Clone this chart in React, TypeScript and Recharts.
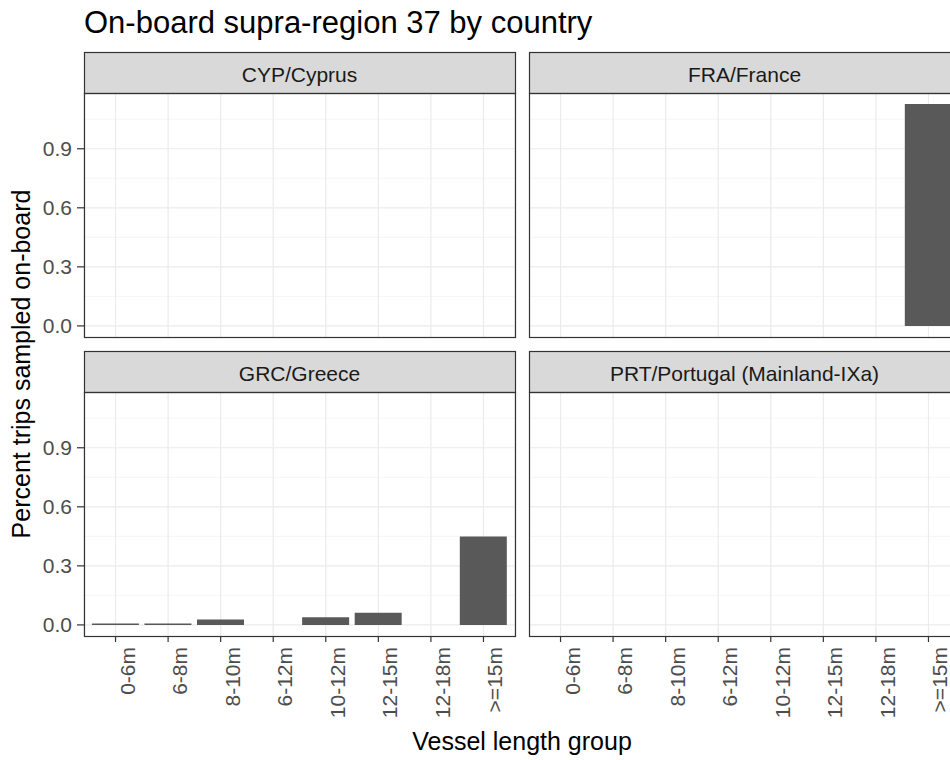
import { BarChart, Bar, XAxis, YAxis, CartesianGrid } from 'recharts'

const lengthGroups = ['0-6m', '6-8m', '8-10m', '6-12m', '10-12m', '12-15m', '12-18m', '>=15m']

const cypValues: (number | null)[] = [null, null, null, null, null, null, null, null]
const fraValues: (number | null)[] = [null, null, null, null, null, null, null, 1.127]
const grcValues: (number | null)[] = [0.007, 0.007, 0.028, null, 0.039, 0.062, null, 0.449]
const prtValues: (number | null)[] = [null, null, null, null, null, null, null, null]

const facetLabels = ['CYP/Cyprus', 'FRA/France', 'GRC/Greece', 'PRT/Portugal (Mainland-IXa)']
const facetValues = [cypValues, fraValues, grcValues, prtValues]

const yTicks = [0, 0.3, 0.6, 0.9]
const yMinorTicks = [0.15, 0.45, 0.75, 1.05]

// ggplot-style 5% expansion on the shared y scale
const yMax = Math.max(...facetValues.flat().map(v => v ?? 0))
const Y_MIN = -0.05 * yMax
const Y_MAX = 1.05 * yMax

// layout (px)
const PANEL_W = 431
const PANEL_H = 244
const STRIP_H = 41
const PANEL_LEFT = [84, 529]
const STRIP_TOP = [52, 351]
const Y_AXIS_W = 60
const X_AXIS_H = 110
const BAND_PAD = (PANEL_W / 8.2) * 0.1

const FONT = '"Liberation Sans", Arial, sans-serif'

function RotatedTick(props: any) {
  const { x, y, payload } = props
  return (
    <text
      x={x}
      y={y}
      dy={19}
      transform={`rotate(-90, ${x}, ${y})`}
      textAnchor="end"
      fill="#4d4d4d"
      fontSize={21}
      fontFamily={FONT}
    >
      {payload.value}
    </text>
  )
}

function Facet({ index }: { index: number }) {
  const col = index % 2
  const row = Math.floor(index / 2)
  const showY = col === 0
  const showX = row === 1
  const data = lengthGroups.map((g, i) => ({ group: g, value: facetValues[index][i] }))
  const left = PANEL_LEFT[col] - (showY ? Y_AXIS_W : 0)
  const top = STRIP_TOP[row] + STRIP_H
  return (
    <div style={{ position: 'absolute', left, top }}>
      <BarChart
        width={PANEL_W + (showY ? Y_AXIS_W : 0)}
        height={PANEL_H + (showX ? X_AXIS_H : 0)}
        data={data}
        margin={{ top: 0, right: 0, bottom: 0, left: 0 }}
        barCategoryGap="5%"
      >
        <CartesianGrid stroke="#f0f0f0" strokeWidth={0.7} vertical={false} horizontalValues={yMinorTicks} />
        <CartesianGrid stroke="#ebebeb" strokeWidth={1.2} horizontalValues={yTicks} />
        <XAxis
          dataKey="group"
          hide={!showX}
          height={X_AXIS_H}
          padding={{ left: BAND_PAD, right: BAND_PAD }}
          interval={0}
          axisLine={false}
          tickLine={{ stroke: '#333333', strokeWidth: 1.2 }}
          tickSize={6}
          tickMargin={5}
          tick={<RotatedTick />}
        />
        <YAxis
          type="number"
          domain={[Y_MIN, Y_MAX]}
          ticks={yTicks}
          interval={0}
          allowDataOverflow
          hide={!showY}
          width={Y_AXIS_W}
          axisLine={false}
          tickLine={{ stroke: '#333333', strokeWidth: 1.2 }}
          tickSize={7}
          tickMargin={5}
          tick={{ fill: '#4d4d4d', fontSize: 21, fontFamily: FONT }}
          tickFormatter={(v: number) => v.toFixed(1)}
        />
        <Bar dataKey="value" fill="#595959" isAnimationActive={false} />
      </BarChart>
    </div>
  )
}

export default function App() {
  return (
    <div
      style={{
        position: 'absolute',
        left: 0,
        top: 0,
        width: 950,
        height: 760,
        overflow: 'hidden',
        background: '#ffffff',
        fontFamily: FONT,
      }}
    >
      {facetLabels.map((_, i) => (
        <Facet key={i} index={i} />
      ))}

      {/* strips, panel borders, titles */}
      <svg width={950} height={760} style={{ position: 'absolute', left: 0, top: 0, pointerEvents: 'none' }}>
        <text x={84} y={33} fontSize={31} fill="#000000" fontFamily={FONT}>
          On-board supra-region 37 by country
        </text>
        {facetLabels.map((label, i) => {
          const col = i % 2
          const row = Math.floor(i / 2)
          const x = PANEL_LEFT[col]
          const y = STRIP_TOP[row]
          return (
            <g key={label}>
              <rect x={x + 0.5} y={y + 0.5} width={PANEL_W} height={STRIP_H} fill="#d9d9d9" stroke="#333333" strokeWidth={1.2} />
              <text x={x + PANEL_W / 2} y={y + 30} textAnchor="middle" fontSize={21} fill="#1a1a1a" fontFamily={FONT}>
                {label}
              </text>
              <rect x={x + 0.5} y={y + STRIP_H + 0.5} width={PANEL_W} height={PANEL_H} fill="none" stroke="#333333" strokeWidth={1.2} />
            </g>
          )
        })}
        <text x={522} y={750} textAnchor="middle" fontSize={25} fill="#000000" fontFamily={FONT}>
          Vessel length group
        </text>
        <text x={30} y={364} transform="rotate(-90, 30, 364)" textAnchor="middle" fontSize={25} fill="#000000" fontFamily={FONT}>
          Percent trips sampled on-board
        </text>
      </svg>
    </div>
  )
}
